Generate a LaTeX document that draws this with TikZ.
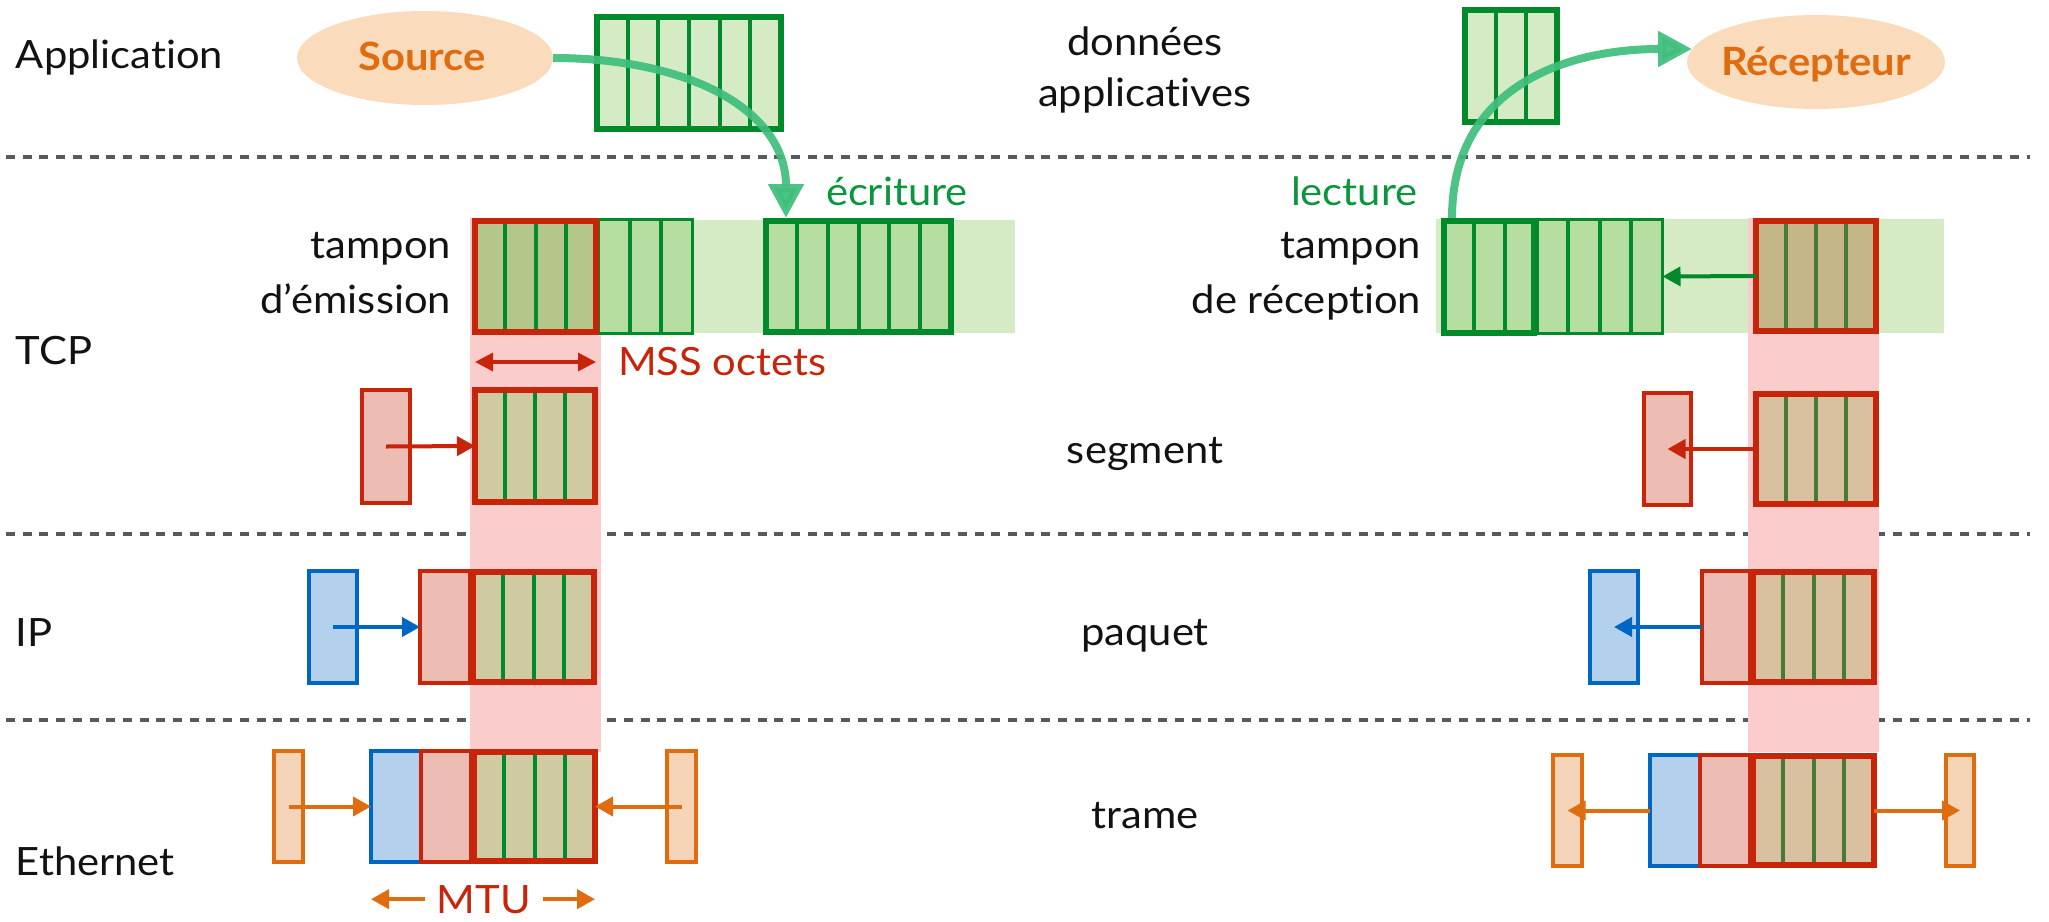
\documentclass[tikz,border=0pt]{standalone}
\usepackage{fontspec}
\setmainfont[Ligatures=NoCommon,FakeStretch=1.07]{Lato}
\usetikzlibrary{shapes.geometric,arrows.meta,calc}

\definecolor{tgreen}{RGB}{0,138,44}
\definecolor{appfill}{RGB}{212,235,198}
\definecolor{cellfill}{RGB}{182,222,160}
\definecolor{bandgreen}{RGB}{212,235,198}
\definecolor{mint}{RGB}{62,190,124}
\definecolor{txtgreen}{RGB}{10,150,60}
\definecolor{tred}{RGB}{200,36,10}
\definecolor{hdrred}{RGB}{237,189,180}
\definecolor{pinkband}{RGB}{250,204,204}
\definecolor{msssend}{RGB}{180,198,138}
\definecolor{tansend}{RGB}{207,202,161}
\definecolor{mssrecv}{RGB}{196,182,136}
\definecolor{tanrecv}{RGB}{217,192,160}
\definecolor{olive}{RGB}{70,122,53}
\definecolor{tblue}{RGB}{0,102,196}
\definecolor{bluefill}{RGB}{179,208,236}
\definecolor{torange}{RGB}{224,108,16}
\definecolor{orangefill}{RGB}{245,212,183}
\definecolor{peach}{RGB}{250,220,188}
\definecolor{dashgray}{RGB}{85,90,96}

% filled box given by its left, right, top and bottom edges
\newcommand\boxat[6]{\node[fillbox,#1,minimum width={#4-#3},minimum height={#6-#5}] (#2) at ({(#3+#4)/2},{(#5+#6)/2}) {};}
% evenly spaced cell dividers inside a box
\newcommand\divs[3]{\foreach \k in {1,...,#3}{\draw[#1] ($(#2.north west)!{\k/(#3+1)}!(#2.north east)$) -- ($(#2.south west)!{\k/(#3+1)}!(#2.south east)$);}}
% outline of a box
\newcommand\frameit[2]{\draw[#1] (#2.south west) rectangle (#2.north east);}

\tikzset{
  fillbox/.style={rectangle,draw=none,inner sep=0pt,outer sep=0pt},
  gdiv/.style={draw=tgreen,line width=4pt},
  odiv/.style={draw=olive,line width=4pt},
  gthick/.style={draw=tgreen,line width=6pt},
  gthin/.style={draw=tgreen,line width=3pt},
  rthick/.style={draw=tred,line width=6pt},
  rthin/.style={draw=tred,line width=4pt},
  bthin/.style={draw=tblue,line width=4pt},
  othin/.style={draw=torange,line width=4pt},
  layer/.style={draw=dashgray,line width=4pt,dash pattern=on 9pt off 7.7pt},
  arr/.style={line width=4pt,-{Triangle[length=18pt,width=19pt]}},
  flow/.style={draw=mint,line width=8pt,opacity=0.92,-{Triangle[length=34pt,width=34pt]}},
  actor/.style={ellipse,fill=peach,inner sep=0pt,minimum width=256pt,minimum height=94pt},
  txt/.style={font=\fontsize{39}{46}\selectfont,text=black!93},
  btxt/.style={font=\fontsize{39}{46}\selectfont\bfseries,text=torange},
}

\begin{document}
\begin{tikzpicture}[x=1pt,y=-1pt,every node/.style={inner sep=0pt,outer sep=0pt}]
\useasboundingbox (0,0) rectangle (2049,921);

% layer separators
\draw[layer] (6,157) -- (2030,157);
\draw[layer] (6,534) -- (2030,534);
\draw[layer] (6,720) -- (2030,720);

% background bands
\boxat{fill=bandgreen}{sband}{472}{1015}{220}{333}
\boxat{fill=pinkband}{spink}{470}{601}{218}{752}
\boxat{fill=bandgreen}{rband}{1436}{1944}{219}{333}
\boxat{fill=pinkband}{rpink}{1748}{1879}{218}{752}

% ---------------- sending side ----------------
\node[actor] (src) at (425,58) {};
\node[btxt,anchor=base] at (422,70) {Source};

\boxat{fill=appfill}{sapp}{597}{781}{17}{129}
\divs{gdiv}{sapp}{5}
\frameit{gthick}{sapp}

% send buffer
\boxat{fill=cellfill}{sbufr}{598.5}{692.5}{219.5}{333.5}
\divs{gdiv}{sbufr}{2}
\frameit{gthin}{sbufr}
\boxat{fill=msssend}{smss}{475}{596}{221}{332}
\divs{gdiv}{smss}{3}
\frameit{rthick}{smss}
\boxat{fill=cellfill}{sbufB}{766}{951}{221}{332}
\divs{gdiv}{sbufB}{5}
\frameit{gthick}{sbufB}

% segment
\boxat{fill=hdrred}{sseghdr}{362}{410}{390}{503}
\frameit{rthin}{sseghdr}
\boxat{fill=tansend}{ssegdata}{475}{595}{390}{502}
\divs{gdiv}{ssegdata}{3}
\frameit{rthick}{ssegdata}

% packet
\boxat{fill=bluefill}{sipblue}{309}{357}{571}{683}
\frameit{bthin}{sipblue}
\boxat{fill=hdrred}{siphdr}{420}{470}{571}{683}
\frameit{rthin}{siphdr}
\boxat{fill=tansend}{sipdata}{473}{594}{572}{682}
\divs{gdiv}{sipdata}{3}
\frameit{rthick}{sipdata}

% frame
\boxat{fill=orangefill}{sethL}{274}{303}{751}{862}
\frameit{othin}{sethL}
\boxat{fill=bluefill}{sethblue}{371}{421}{751}{862}
\frameit{bthin}{sethblue}
\boxat{fill=hdrred}{sethred}{421}{471}{751}{862}
\frameit{rthin}{sethred}
\boxat{fill=tansend}{sethdata}{474}{595}{752}{861}
\divs{gdiv}{sethdata}{3}
\frameit{rthick}{sethdata}
\boxat{fill=orangefill}{sethR}{667}{696}{751}{862}
\frameit{othin}{sethR}

% encapsulation arrows
\draw[arr,tred] (sseghdr.center) -- (ssegdata.west);
\draw[arr,tblue] (sipblue.center) -- (siphdr.west);
\draw[arr,torange] (sethL.center) -- (sethblue.west);
\draw[arr,torange] (sethR.center) -- (sethdata.east);

% MSS
\draw[tred,line width=3.5pt,{Triangle[length=18pt,width=18pt]}-{Triangle[length=18pt,width=18pt]}]
  ($(smss.south west)+(0,30)$) -- ($(smss.south east)+(0,30)$);
\node[txt,text=tred,anchor=base west] at (618,375) {MSS octets};

% MTU
\node[txt,text=tred,anchor=base,inner xsep=12pt] (mtu) at (484,913) {MTU};
\draw[arr,torange] (mtu.west) -- (mtu.west -| sethblue.west);
\draw[arr,torange] (mtu.east) -- (mtu.east -| sethdata.east);

% write into the buffer
\coordinate (wr) at ($(sbufB.north west)+(20,-3)$);
\draw[flow] (src.east) .. controls +(138,0) and +(0,-107) .. (wr);
\node[txt,text=txtgreen,anchor=base west] at (826,205) {écriture};

% ---------------- receiving side ----------------
\node[actor,minimum width=258pt] (rcv) at (1816,62) {};
\node[btxt,anchor=base] at (1816,75) {Récepteur};

\boxat{fill=appfill}{rapp}{1465}{1557}{10}{122}
\divs{gdiv}{rapp}{2}
\frameit{gthick}{rapp}

% receive buffer
\boxat{fill=cellfill}{rbuf}{1442.5}{1662.5}{219.5}{333.5}
\divs{gdiv}{rbuf}{6}
\frameit{gthin}{rbuf}
\boxat{}{rsel}{1444}{1534}{221}{333}
\frameit{gthick}{rsel}
\boxat{fill=mssrecv}{rmss}{1756}{1876}{221}{331}
\divs{odiv}{rmss}{3}
\frameit{rthick}{rmss}

% segment
\boxat{fill=hdrred}{rseghdr}{1644}{1691}{393}{505}
\frameit{rthin}{rseghdr}
\boxat{fill=tanrecv}{rsegdata}{1756}{1876}{394}{504}
\divs{odiv}{rsegdata}{3}
\frameit{rthick}{rsegdata}

% packet
\boxat{fill=bluefill}{ripblue}{1590}{1638}{571}{683}
\frameit{bthin}{ripblue}
\boxat{fill=hdrred}{riphdr}{1702}{1750}{571}{683}
\frameit{rthin}{riphdr}
\boxat{fill=tanrecv}{ripdata}{1753}{1874}{572}{682}
\divs{odiv}{ripdata}{3}
\frameit{rthick}{ripdata}

% frame
\boxat{fill=orangefill}{rethL}{1553}{1582}{755}{866}
\frameit{othin}{rethL}
\boxat{fill=bluefill}{rethblue}{1650}{1700}{755}{866}
\frameit{bthin}{rethblue}
\boxat{fill=hdrred}{rethred}{1700}{1750}{755}{866}
\frameit{rthin}{rethred}
\boxat{fill=tanrecv}{rethdata}{1753}{1874}{756}{865}
\divs{odiv}{rethdata}{3}
\frameit{rthick}{rethdata}
\boxat{fill=orangefill}{rethR}{1946}{1974}{755}{866}
\frameit{othin}{rethR}

% decapsulation arrows
\draw[arr,tgreen] (rmss.west) -- (rbuf.east);
\draw[arr,tred] (rsegdata.west) -- (rseghdr.center);
\draw[arr,tblue] (riphdr.west) -- (ripblue.center);
\draw[arr,torange] (rethblue.west) -- (rethL.center);
\draw[arr,torange] (rethdata.east) -- (rethR.center);

% read from the buffer
\coordinate (rd) at ($(rsel.north west)+(8,-3)$);
\draw[flow] (rd) .. controls +(0,-128) and +(-131,0) .. (rcv.174);
\node[txt,text=txtgreen,anchor=base west] at (1291,205) {lecture};

% ---------------- labels ----------------
\node[txt,anchor=base west] at (16,68) {Application};
\node[txt,anchor=base west] at (16,364) {TCP};
\node[txt,anchor=base west] at (16,646) {IP};
\node[txt,anchor=base west] at (16,875) {Ethernet};

\node[txt,anchor=base] at (1145,55) {données};
\node[txt,anchor=base] at (1145,106) {applicatives};
\node[txt,anchor=base] at (1145,463) {segment};
\node[txt,anchor=base] at (1145,645) {paquet};
\node[txt,anchor=base] at (1145,828) {trame};

\node[txt,anchor=base east] at (451,258) {tampon};
\node[txt,anchor=base east] at (451,313) {d’émission};
\node[txt,anchor=base east] at (1421,258) {tampon};
\node[txt,anchor=base east] at (1421,313) {de réception};
\end{tikzpicture}
\end{document}
